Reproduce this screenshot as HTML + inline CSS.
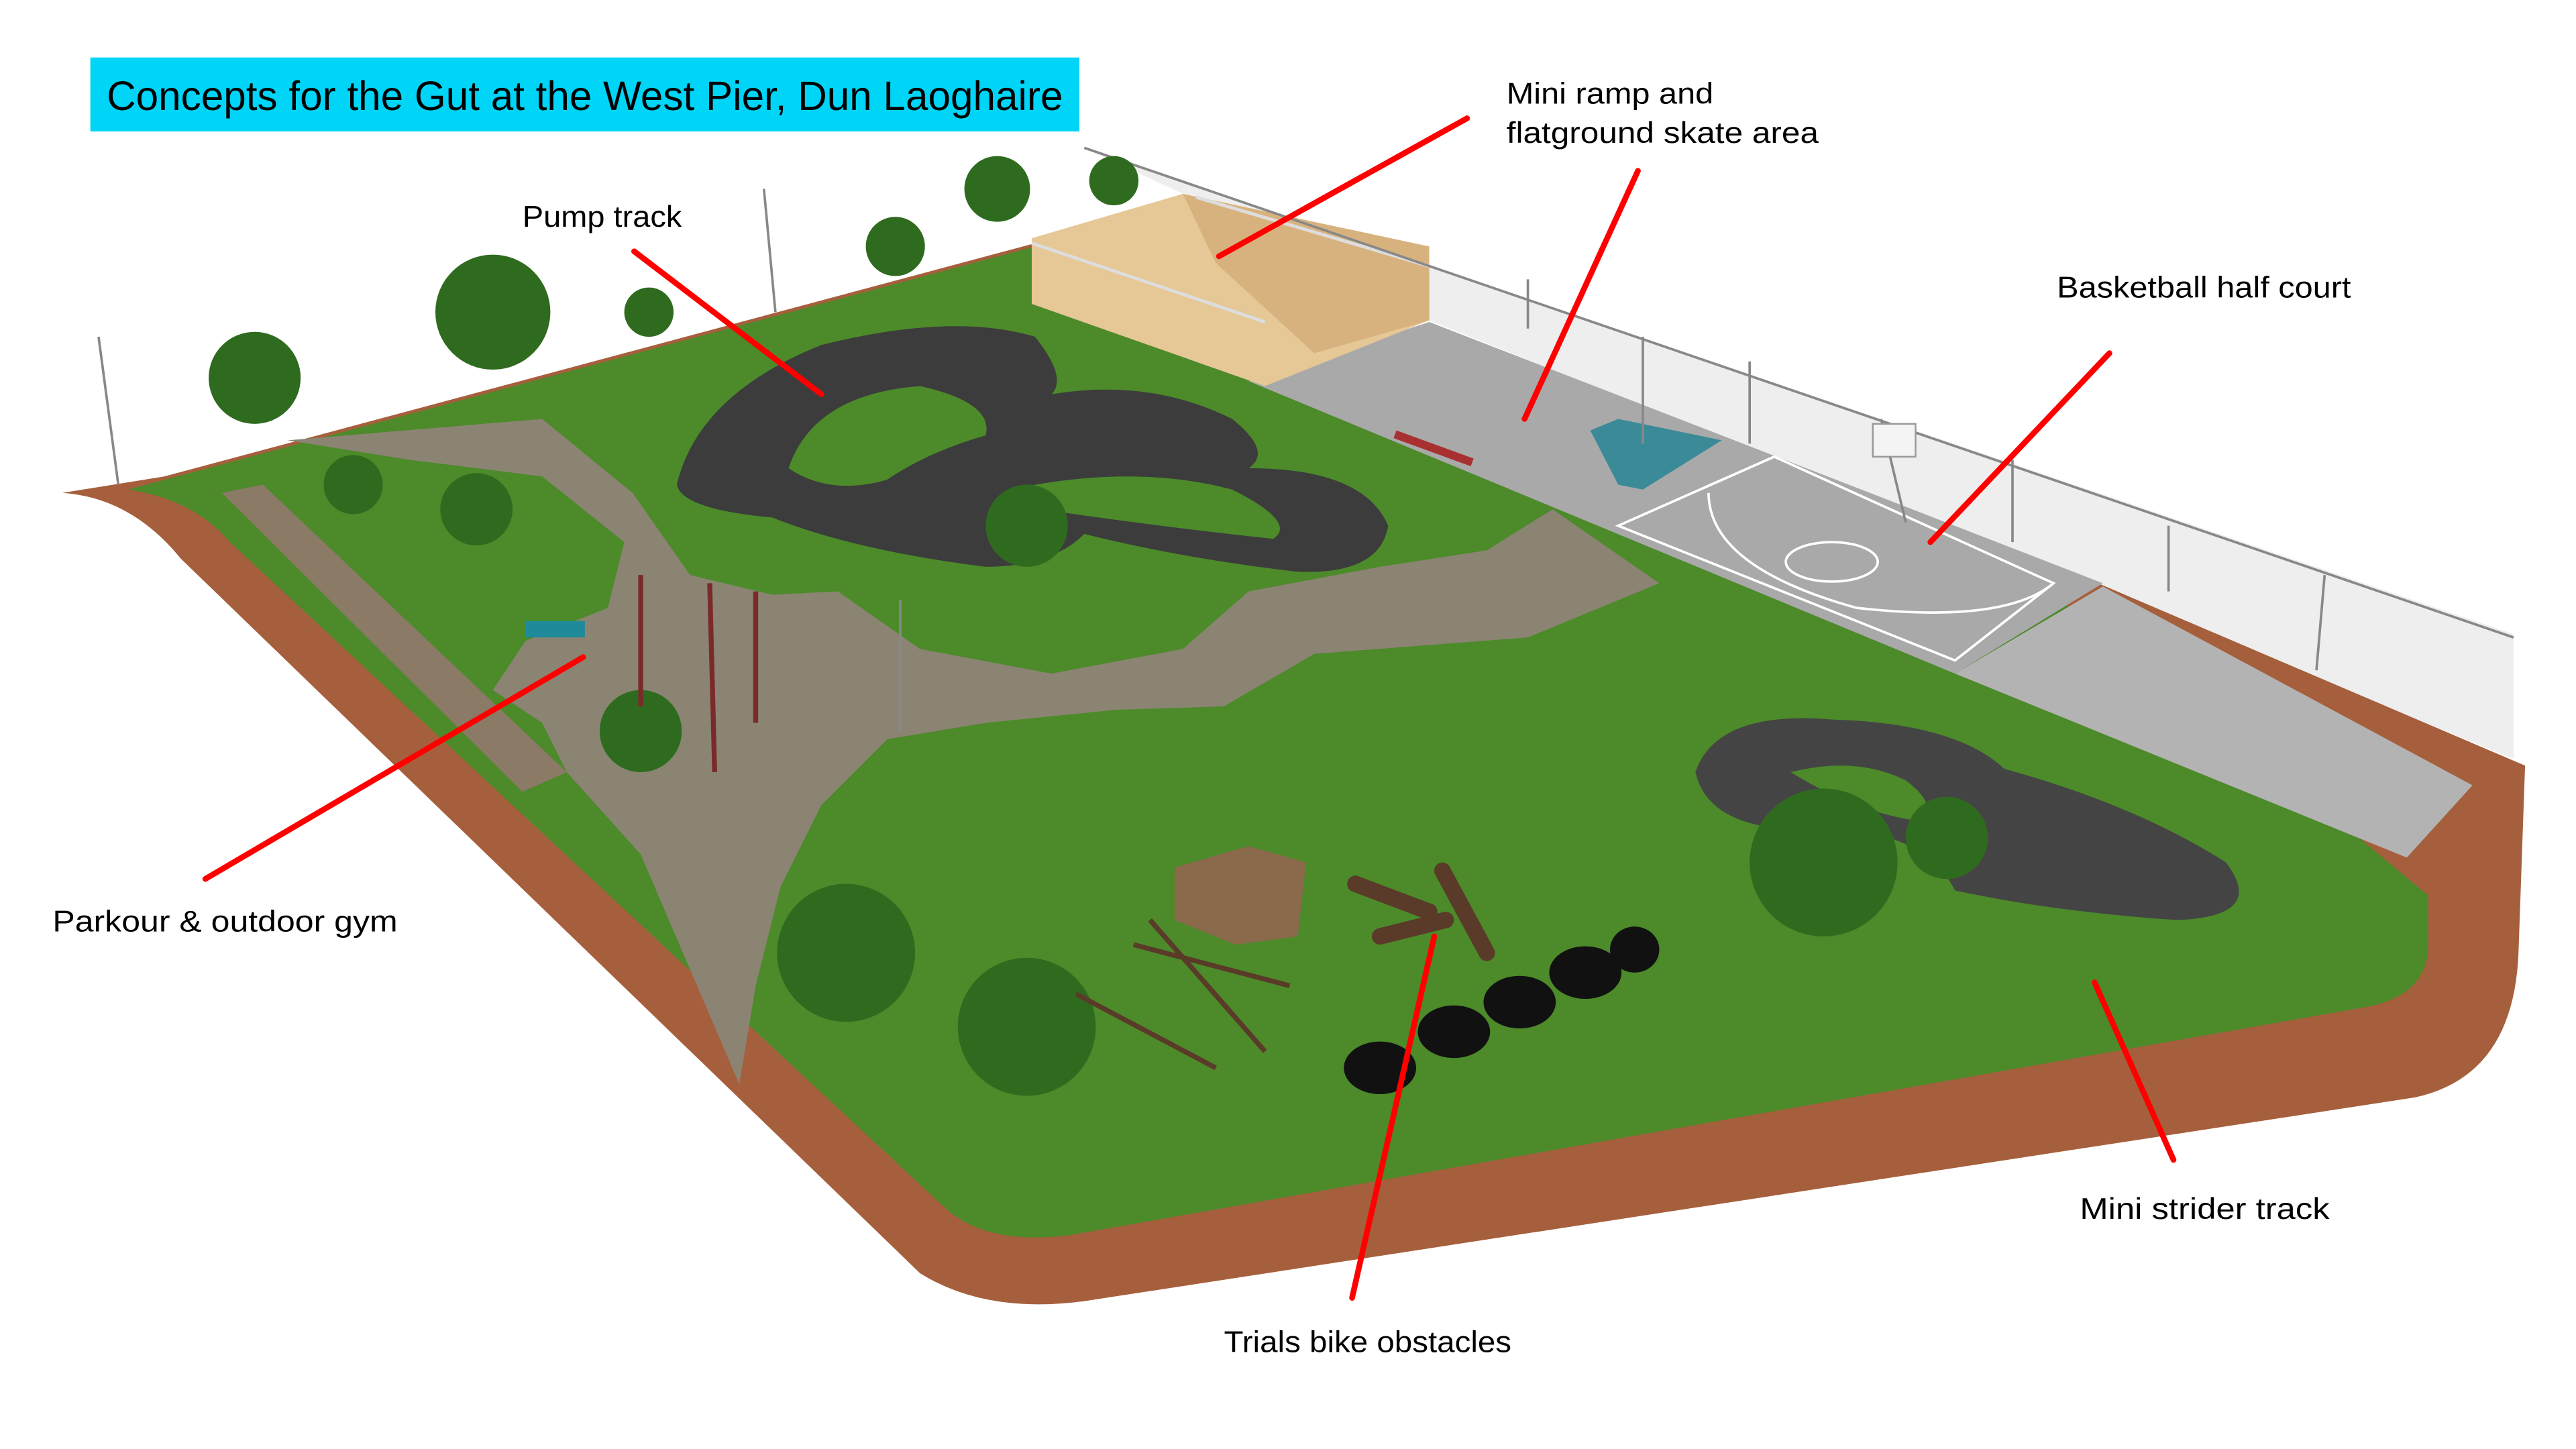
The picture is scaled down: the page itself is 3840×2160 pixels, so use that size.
<!DOCTYPE html>
<html><head><meta charset="utf-8"><style>
html,body{margin:0;padding:0;background:#fff;}
svg{display:block;}
text{font-family:"Liberation Sans",sans-serif;}
</style></head><body>
<svg width="3840" height="2160" viewBox="0 0 1568 882" preserveAspectRatio="none" xmlns="http://www.w3.org/2000/svg">
<rect width="1568" height="882" fill="#fff"/>
<!-- fence netting -->
<polygon points="660,90 1530,386 1530,462 1270,355 870,195 720,118" fill="#eeeeee"/>
<!-- brick base -->
<path d="M38,300 L100,290 L660,140 L760,225 L1270,352 L1537,466 L1533,580 Q1530,655 1470,668 L660,792 Q600,800 560,775 L110,340 Q80,303 38,300 Z" fill="#a65f3c"/>
<!-- grass -->
<path d="M78,298 L660,142 L760,230 L1270,372 L1478,545 L1478,575 Q1478,606 1440,613 L650,752 Q600,758 575,735 L140,330 Q118,304 78,298 Z" fill="#4c8a2a"/>
<!-- wall strip -->
<polygon points="135,300 160,295 345,470 318,482" fill="#8a7a66"/>
<!-- gravel -->
<path d="M175,268 L330,255 L385,300 L420,350 L470,362 L510,360 L560,395 L640,410 L720,395 L760,360 L840,345 L905,335 L945,310 L1010,355 L930,388 L800,398 L745,430 L680,432 L600,440 L540,450 L500,490 L475,540 L460,600 L450,660 L420,590 L390,520 L345,470 L330,440 L300,420 L320,390 L370,370 L380,330 L330,290 L250,280 Z" fill="#8b8472"/>
<!-- concrete skate area -->
<polygon points="760,232 870,196 1280,355 1190,410" fill="#a9a9a9"/>
<polygon points="1190,410 1280,357 1505,478 1465,522" fill="#b3b3b3"/>
<!-- court lines -->
<g stroke="#fff" stroke-width="1.5" fill="none">
<polygon points="985,320 1080,278 1250,355 1190,402"/>
<path d="M1040,300 Q1040,345 1130,370 Q1220,380 1250,355"/>
<ellipse cx="1115" cy="342" rx="28" ry="12"/>
</g>
<rect x="850" y="262" width="50" height="5" fill="#a83030" transform="rotate(20 850 262)"/>
<polygon points="968,262 985,255 1048,268 1000,298 985,295" fill="#3a8a98"/>
<!-- ramp -->
<polygon points="628,145 720,118 870,165 870,195 770,235 628,185" fill="#e6c796"/>
<polygon points="720,118 870,150 870,195 800,215 740,160" fill="#d8b27e"/>
<g stroke="#ddd" stroke-width="2"><line x1="628" y1="148" x2="770" y2="196"/><line x1="728" y1="120" x2="870" y2="162"/></g>
<!-- fence posts -->
<g stroke="#888" stroke-width="1.5">
<line x1="660" y1="90" x2="1530" y2="388"/>
<line x1="930" y1="170" x2="930" y2="200"/><line x1="1000" y1="205" x2="1000" y2="270"/><line x1="1065" y1="220" x2="1065" y2="270"/><line x1="1145" y1="255" x2="1160" y2="318"/><line x1="1225" y1="280" x2="1225" y2="330"/><line x1="1320" y1="320" x2="1320" y2="360"/><line x1="1415" y1="350" x2="1410" y2="408"/>
<line x1="60" y1="205" x2="72" y2="295"/><line x1="465" y1="115" x2="472" y2="190"/><line x1="548" y1="365" x2="548" y2="445"/>
</g>
<rect x="1140" y="258" width="26" height="20" fill="#f4f4f4" stroke="#999"/>
<!-- pump track -->
<path d="M412,295 Q425,240 500,210 Q580,190 630,205 Q650,230 640,240 Q700,230 750,255 Q775,275 760,285 Q830,285 845,320 Q840,350 790,348 Q720,340 660,325 Q640,345 600,345 Q520,335 470,315 Q415,310 412,295 Z" fill="#3c3c3c"/>
<path d="M480,285 Q495,240 560,235 Q605,245 600,265 Q565,275 540,292 Q505,302 480,285 Z M615,298 Q690,282 750,298 Q790,318 775,328 Q700,320 620,308 Z" fill="#4c8a2a"/>
<!-- strider track -->
<path d="M1032,470 Q1045,432 1115,438 Q1190,440 1220,468 Q1300,490 1355,525 Q1380,558 1325,560 Q1250,555 1190,542 Q1170,502 1100,505 Q1040,505 1032,470 Z" fill="#444"/>
<path d="M1090,470 Q1130,460 1160,475 Q1180,490 1170,500 Q1130,495 1090,470 Z" fill="#4c8a2a"/>
<!-- trees -->
<g fill="#2f6b1f">
<circle cx="155" cy="230" r="28"/><circle cx="300" cy="190" r="35"/><circle cx="395" cy="190" r="15"/><circle cx="545" cy="150" r="18"/><circle cx="607" cy="115" r="20"/><circle cx="678" cy="110" r="15"/>
<circle cx="215" cy="295" r="18"/><circle cx="290" cy="310" r="22"/><circle cx="625" cy="320" r="25"/><circle cx="390" cy="445" r="25"/>
<circle cx="515" cy="580" r="42"/><circle cx="625" cy="625" r="42"/><circle cx="1110" cy="525" r="45"/><circle cx="1185" cy="510" r="25"/>
</g>
<!-- crates/logs/tyres -->
<polygon points="715,528 760,515 795,525 790,570 752,575 715,560" fill="#8a6a4a"/>
<g stroke="#5a3a28" stroke-width="10" stroke-linecap="round"><line x1="825" y1="538" x2="870" y2="555"/><line x1="878" y1="530" x2="905" y2="580"/><line x1="840" y1="570" x2="880" y2="560"/></g>
<g fill="#111"><ellipse cx="840" cy="650" rx="22" ry="16"/><ellipse cx="885" cy="628" rx="22" ry="16"/><ellipse cx="925" cy="610" rx="22" ry="16"/><ellipse cx="965" cy="592" rx="22" ry="16"/><ellipse cx="995" cy="578" rx="15" ry="14"/></g>
<g stroke="#5a3a28" stroke-width="3"><line x1="655" y1="605" x2="740" y2="650"/><line x1="690" y1="575" x2="785" y2="600"/><line x1="700" y1="560" x2="770" y2="640"/></g>
<!-- gym -->
<g stroke="#7a2a2a" stroke-width="3"><line x1="390" y1="350" x2="390" y2="430"/><line x1="432" y1="355" x2="435" y2="470"/><line x1="460" y1="360" x2="460" y2="440"/></g>
<rect x="320" y="378" width="36" height="10" fill="#1e8a9a"/>
<!-- title -->
<rect x="55" y="35" width="602" height="45" fill="#00d4f7"/>
<text x="65" y="67" font-size="25" fill="#000" textLength="582" lengthAdjust="spacingAndGlyphs">Concepts for the Gut at the West Pier, Dun Laoghaire</text>
<!-- labels -->
<g font-size="18" fill="#000">
<text x="917" y="63" textLength="126" lengthAdjust="spacingAndGlyphs">Mini ramp and</text>
<text x="917" y="87" textLength="190" lengthAdjust="spacingAndGlyphs">flatground skate area</text>
<text x="318" y="138" textLength="97" lengthAdjust="spacingAndGlyphs">Pump track</text>
<text x="1252" y="181" textLength="179" lengthAdjust="spacingAndGlyphs">Basketball half court</text>
<text x="32" y="567" textLength="210" lengthAdjust="spacingAndGlyphs">Parkour &amp; outdoor gym</text>
<text x="1266" y="742" textLength="152" lengthAdjust="spacingAndGlyphs">Mini strider track</text>
<text x="745" y="823" textLength="175" lengthAdjust="spacingAndGlyphs">Trials bike obstacles</text>
</g>
<g stroke="#ff0000" stroke-width="3.5" stroke-linecap="round">
<line x1="893" y1="72" x2="742" y2="156"/>
<line x1="997" y1="104" x2="928" y2="255"/>
<line x1="386" y1="153" x2="500" y2="240"/>
<line x1="1284" y1="215" x2="1175" y2="330"/>
<line x1="355" y1="400" x2="125" y2="535"/>
<line x1="1275" y1="598" x2="1323" y2="706"/>
<line x1="873" y1="570" x2="823" y2="790"/>
</g>
</svg>
</body></html>
